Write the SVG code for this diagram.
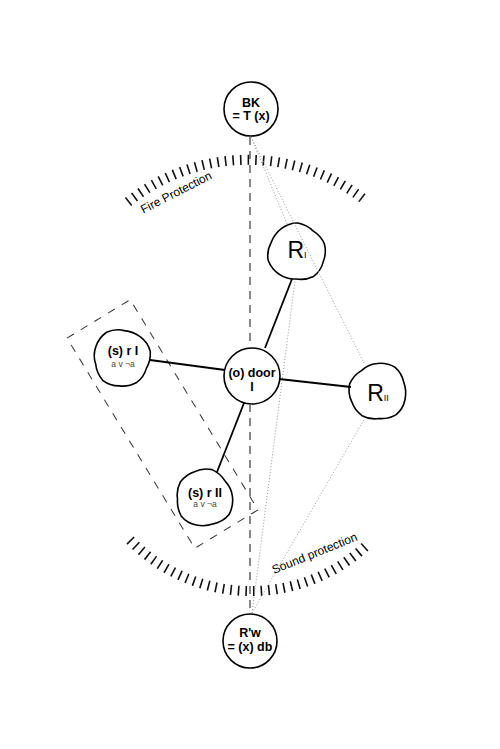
<svg xmlns="http://www.w3.org/2000/svg" width="500" height="749" viewBox="0 0 500 749">
<style>
.node{fill:#fff;stroke:#000;stroke-width:1.6}
.lbl{font-family:"Liberation Sans",Arial,sans-serif;font-weight:bold;font-size:12.5px;fill:#000;text-anchor:middle}
.sm{font-family:"Liberation Sans",Arial,sans-serif;font-size:8.5px;fill:#444;text-anchor:middle}
.big{font-family:"Liberation Sans",Arial,sans-serif;font-size:23px;fill:#000;text-anchor:middle}
.arcl{font-family:"Liberation Sans",Arial,sans-serif;font-size:12px;fill:#000;text-anchor:middle}
.solid{stroke:#000;stroke-width:1.8;fill:none}
.dash{stroke:#555;stroke-width:1.4;stroke-dasharray:8 6;fill:none}
.dot{stroke:#999;stroke-width:1;stroke-dasharray:1 2;fill:none}
.box{stroke:#333;stroke-width:1;stroke-dasharray:8 8;fill:none}
.ticks{fill:none;stroke:#111;stroke-width:10;stroke-dasharray:1.6 6}
</style>
<defs>
<path id="blob" d="M28,0 A27,27 0 0,1 23.9,17.3 A30,30 0 0,1 8.3,25.7 A26,26 0 0,1 -8.8,27.1 A29,29 0 0,1 -24.3,17.6 A27,27 0 0,1 -27.5,0 A31,31 0 0,1 -22.7,-16.5 A26,26 0 0,1 -9,-27.6 A30,30 0 0,1 8.2,-25.2 A27,27 0 0,1 23.1,-16.8 A29,29 0 0,1 28,0 Z"/>
</defs>

<g id="arcs">
<path class="ticks" d="M128,202 A191,191 0 0,1 365,200"/>
<path class="ticks" d="M130,540 A169,169 0 0,0 367,545"/>
<text class="arcl" transform="translate(178,196) rotate(-27)">Fire Protection</text>
<text class="arcl" transform="translate(316,557) rotate(-22)">Sound protection</text>
</g>

<g id="group-box">
<rect class="box" x="-37" y="-123" width="74" height="246" transform="translate(162.5,424) rotate(-31.3)"/>
</g>

<g id="nodes">
<g id="bk"><circle class="node" cx="251" cy="109" r="27"/><text class="lbl" x="251" y="107">BK</text><text class="lbl" x="251" y="120">= T (x)</text></g>
<g id="rw"><circle class="node" cx="250" cy="641" r="27"/><text class="lbl" x="250" y="637">R'w</text><text class="lbl" x="250" y="651">= (x) db</text></g>
<g id="door"><circle class="node" cx="252" cy="376" r="28"/><text class="lbl" x="252" y="377">(o) door</text><text class="lbl" x="252" y="391">I</text></g>
<g id="RI"><use href="#blob" class="node" transform="translate(297,252) rotate(20)"/><text class="big" x="297" y="258">R<tspan font-size="9">I</tspan></text></g>
<g id="RII"><use href="#blob" class="node" transform="translate(378,392) rotate(160)"/><text class="big" x="378" y="401">R<tspan font-size="9">II</tspan></text></g>
<g id="rI"><use href="#blob" class="node" transform="translate(122,358) rotate(95)"/><text class="lbl" x="123" y="355">(s) r I</text><text class="sm" x="123" y="367">a v ¬a</text></g>
<g id="rII"><use href="#blob" class="node" transform="translate(204,498) rotate(250)"/><text class="lbl" x="205" y="497">(s) r II</text><text class="sm" x="205" y="507">a v ¬a</text></g>
</g>

<g id="connectors">
<line class="solid" x1="265" y1="348" x2="292" y2="279"/>
<line class="solid" x1="279" y1="379" x2="351" y2="387"/>
<line class="solid" x1="225" y1="370" x2="150" y2="360"/>
<line class="solid" x1="244" y1="403" x2="217" y2="472"/>
<line class="dash" x1="250" y1="137" x2="250" y2="348"/>
<line class="dash" x1="250" y1="404" x2="250" y2="614"/>
<line class="dot" x1="251" y1="137" x2="288" y2="226"/>
<line class="dot" x1="251" y1="137" x2="365" y2="365"/>
<line class="dot" x1="252" y1="613" x2="295" y2="281"/>
<line class="dot" x1="252" y1="613" x2="365" y2="418"/>
</g>
</svg>
